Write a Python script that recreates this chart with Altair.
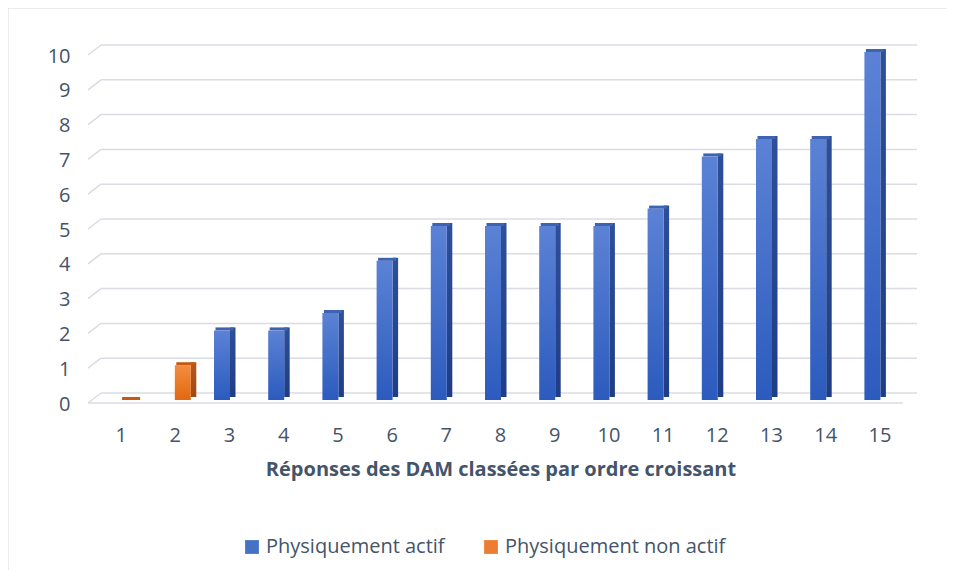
import altair as alt
import pandas as pd

# ---- data ----
categories = [str(i) for i in range(1, 16)]
values = [0, 1, 2, 2, 2.5, 4, 5, 5, 5, 5, 5.5, 7, 7.5, 7.5, 10]
series = ["Physiquement non actif"] * 2 + ["Physiquement actif"] * 13
y_ticks = list(range(0, 11))

series_names = ["Physiquement actif", "Physiquement non actif"]
series_colors = ["#4472C4", "#ED7D31"]

TEXT = "#44546A"
FONT = "Open Sans"
GRID = "#D9DCE3"

df = pd.DataFrame({"cat": categories, "val": values, "serie": series})
grid_df = pd.DataFrame({"v": y_ticks})

W, H = 813, 348

xscale = alt.Scale(domain=categories, paddingInner=0, paddingOuter=0)
yscale = alt.Scale(domain=[0, 10], nice=False)

x_axis = alt.Axis(title="Réponses des DAM classées par ordre croissant",
                  labelAngle=0, labelFontSize=20, labelColor=TEXT, labelFont=FONT,
                  labelBaseline="middle", labelPadding=35, ticks=False, tickSize=0,
                  domain=False, grid=False, titleFont=FONT, titleFontSize=20,
                  titleFontWeight="bold", titleColor=TEXT, titleY=59, titleBaseline="top")
y_axis = alt.Axis(title=None, values=y_ticks, tickCount=11, labelFontSize=20, labelColor=TEXT,
                  labelFont=FONT, labelPadding=24, labelOffset=4, ticks=False,
                  tickSize=0, domain=False, grid=False, labelOverlap=False)


def X():
    return alt.X("cat:N", scale=xscale, sort=categories, axis=x_axis, title=None)


def Y(field):
    return alt.Y(field, scale=yscale, axis=y_axis, title=None)


# ---- decorations: 3D grid ----
grid_back = alt.Chart(grid_df).mark_rule(color=GRID, strokeWidth=1.5, yOffset=-7).encode(
    y=Y("v:Q"), x=alt.value(7), x2=alt.value(823))
grid_side = alt.Chart(grid_df).mark_rule(color=GRID, strokeWidth=1.5, yOffset=3, y2Offset=-7).encode(
    y=Y("v:Q"), y2="v:Q", x=alt.value(-6), x2=alt.value(7))
floor_front = alt.Chart(grid_df[grid_df.v == 0]).mark_rule(color=GRID, strokeWidth=1.5, yOffset=3).encode(
    y=Y("v:Q"), x=alt.value(-6), x2=alt.value(809))

# ---- bars ----
def grad(top, bottom):
    return alt.Gradient(gradient="linear", x1=0, x2=0, y1=0, y2=1,
                        stops=[alt.GradientStop(color=top, offset=0),
                               alt.GradientStop(color=bottom, offset=1)])

styles = {
    "Physiquement actif": dict(off=-7.5, front=("#5B82D5", "#2C5BBE"),
                               side=("#2E4F99", "#1F3D84"), top="#3F63B3"),
    "Physiquement non actif": dict(off=7.5, front=("#F38D42", "#E2680F"),
                                   side=("#B8581B", "#9E4911"), top="#C55A11"),
}

base_front = alt.Chart(df).mark_bar(size=16, xOffset=-7.5).encode(
    x=X(), y=Y("val:Q"),
    color=alt.Color("serie:N", scale=alt.Scale(domain=series_names, range=series_colors),
                    legend=alt.Legend(title=None, orient="none", direction="horizontal",
                                      legendX=148, legendY=485, symbolType="square",
                                      symbolSize=190, symbolStrokeWidth=0,
                                      labelFontSize=20, labelColor=TEXT, labelFont=FONT,
                                      columnPadding=36, labelLimit=400)),
    opacity=alt.value(0))

layers = [grid_back, grid_side, floor_front, base_front]
for name, st in styles.items():
    sub = df[df.serie == name]
    side = alt.Chart(sub).mark_bar(size=5.5, xOffset=st["off"] + 10.75, yOffset=-3,
                                   color=grad(*st["side"])).encode(x=X(), y=Y("val:Q"))
    front = alt.Chart(sub).mark_bar(size=16, xOffset=st["off"],
                                    color=grad(*st["front"])).encode(x=X(), y=Y("val:Q"))
    top = alt.Chart(sub).mark_tick(orient="horizontal", size=18, thickness=3,
                                   xOffset=st["off"] + 2.5, yOffset=-1.5,
                                   color=st["top"], opacity=1).encode(x=X(), y=Y("val:Q"))
    layers += [side, front, top]

border_left = alt.Chart(grid_df[grid_df.v == 0]).mark_rule(color="#D9D9D9", strokeWidth=1).encode(
    x=alt.value(-86), y=alt.value(-44), y2=alt.value(520))
border_top = alt.Chart(grid_df[grid_df.v == 0]).mark_rule(color="#D9D9D9", strokeWidth=1).encode(
    x=alt.value(-86), x2=alt.value(860), y=alt.value(-44))
layers += [border_left, border_top]

chart = alt.layer(*layers).properties(
    width=W, height=H,
    background="white",
    autosize=alt.AutoSizeParams(type="none"),
    padding={"left": 86, "top": 44, "right": 40, "bottom": 170},
).configure_axis(
    domain=False, grid=False, ticks=False
).configure_view(stroke=None, strokeWidth=0)

chart.save("out.html", embed_options={"renderer": "svg", "actions": False})
